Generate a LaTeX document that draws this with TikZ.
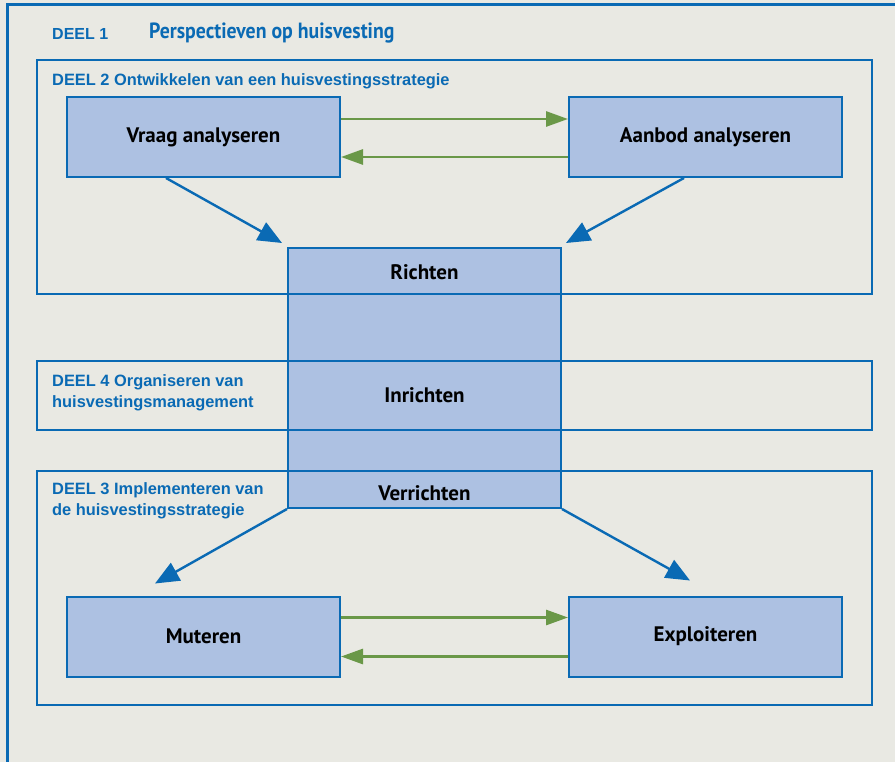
\documentclass[tikz,border=0pt]{standalone}
\usepackage{fontspec}
\setmainfont{Liberation Sans}
\newfontfamily\stapfont{PT Sans}
\newfontfamily\titelfont[FakeStretch=0.9]{PT Sans}
\usetikzlibrary{graphs}
\usetikzlibrary{arrows.meta}
\definecolor{deelblauw}{HTML}{0A6AB4}
\definecolor{stapvul}{HTML}{ADC1E2}
\definecolor{pijlgroen}{HTML}{6A9848}
\definecolor{achtergrond}{HTML}{E9E9E3}
\tikzset{
  stap/.style= {draw=deelblauw, line width=2pt, fill=stapvul, minimum width=273pt, minimum height=80pt, font=\stapfont\bfseries\fontsize{21}{24}\selectfont},
  kerntekst/.style= {font=\stapfont\bfseries\fontsize{21}{24}\selectfont},
  deel/.style= {draw=deelblauw, line width=1.5pt, minimum width=835pt},
  deeltekst/.style= {deelblauw, anchor=west, align=left, inner sep=0pt, font=\bfseries\fontsize{16.4}{21}\selectfont},
  blauw/.style= {deelblauw, line width=2.4pt, >={Triangle[length=24pt,width=20pt]}},
  groen/.style= {pijlgroen, line width=2.8pt, -{Triangle[length=22pt,width=15pt]}},
}

\begin{document}
\begin{tikzpicture}[x=1pt, y=-1pt]
  \fill [achtergrond] (0,0) rectangle (895,762) ;
  \useasboundingbox (0,0) rectangle (895,762) ;
  \draw [deelblauw, line width=3pt] (7,762) -- (7,5) -- (895,5) ;

  \node [deeltekst, font=\bfseries\fontsize{16}{18}\selectfont] (deel1) at (52,34) {DEEL 1} ;
  \node [deeltekst, font=\titelfont\bfseries\fontsize{22}{26}\selectfont] (titel) at (149,33) {Perspectieven op huisvesting} ;

  % centrale kolom onder de kaders
  \node [stap, minimum height=260pt] (kern) at (424.5,378) {} ;

  \node [deel, minimum height=234pt] (deel2) at (454.5,177) {} ;
  \node [deel, minimum height=69pt] (deel4) at (454.5,395.5) {} ;
  \node [deel, minimum height=234pt] (deel3) at (454.5,588) {} ;

  \node [deeltekst] (kop2) at (52,81) {DEEL 2 Ontwikkelen van een huisvestingsstrategie} ;
  \node [deeltekst] (kop4) at (52,392.5) {DEEL 4 Organiseren van\\huisvestingsmanagement} ;
  \node [deeltekst] (kop3) at (52,500.5) {DEEL 3 Implementeren van\\de huisvestingsstrategie} ;

  \node [kerntekst] (richten) at (424.5,272) {Richten} ;
  \node [kerntekst] (inrichten) at (424.5,395) {Inrichten} ;
  \node [kerntekst] (verrichten) at (424.5,493) {Verrichten} ;

  \node [stap] (vraag) at (203.5,137) {Vraag analyseren} ;
  \node [stap] (aanbod) at (705.5,137) {Aanbod analyseren} ;
  \node [stap] (muteren) at (203.5,636.5) {Muteren} ;
  \node [stap] (exploiteren) at (705.5,636.5) {Exploiteren} ;

  \draw [groen] ([yshift=18pt]vraag.east) -- ([yshift=18pt]aanbod.west) ;
  \draw [groen] ([yshift=-20pt]aanbod.west) -- ([yshift=-20pt]vraag.east) ;
  \draw [groen] ([yshift=19pt]muteren.east) -- ([yshift=19pt]exploiteren.west) ;
  \draw [groen] ([yshift=-20pt]exploiteren.west) -- ([yshift=-20pt]muteren.east) ;

  \coordinate (va) at ([xshift=-37.5pt]vraag.south) ;
  \coordinate (aa) at ([xshift=-21.5pt]aanbod.south) ;
  \coordinate (kl) at ([shift={(-5pt,4pt)}]kern.north west) ;
  \coordinate (kr) at ([shift={(4pt,4pt)}]kern.north east) ;
  \coordinate (mu) at ([shift={(-48.5pt,12pt)}]muteren.north) ;
  \coordinate (ex) at ([shift={(-15.5pt,15pt)}]exploiteren.north) ;

  \graph [edges=blauw] {
    (va) -> (kl) ;
    (aa) -> (kr) ;
    (kern.south west) -> (mu) ;
    (kern.south east) -> (ex) ;
  } ;
\end{tikzpicture}
\end{document}
